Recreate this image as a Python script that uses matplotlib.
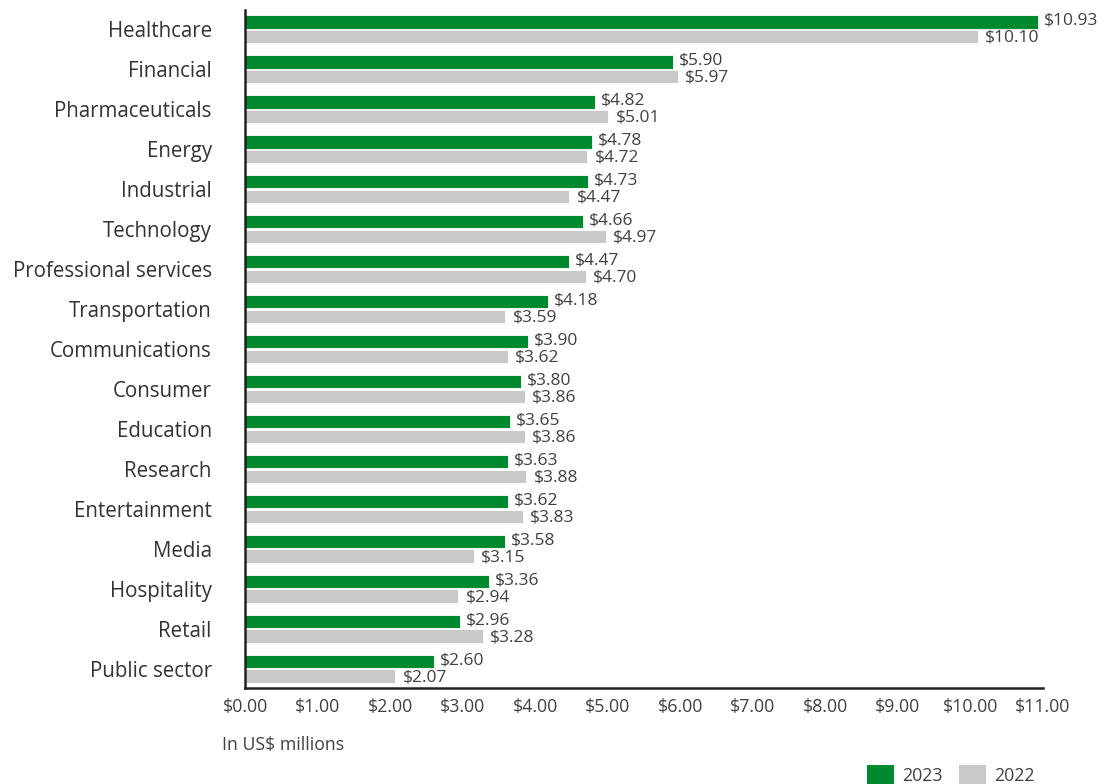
import matplotlib
matplotlib.use("Agg")
import matplotlib.pyplot as plt
import numpy as np
from matplotlib.patches import Patch

categories = ["Healthcare", "Financial", "Pharmaceuticals", "Energy", "Industrial",
              "Technology", "Professional services", "Transportation", "Communications",
              "Consumer", "Education", "Research", "Entertainment", "Media",
              "Hospitality", "Retail", "Public sector"]
values_2023 = [10.93, 5.90, 4.82, 4.78, 4.73, 4.66, 4.47, 4.18, 3.90, 3.80, 3.65,
               3.63, 3.62, 3.58, 3.36, 2.96, 2.60]
values_2022 = [10.10, 5.97, 5.01, 4.72, 4.47, 4.97, 4.70, 3.59, 3.62, 3.86, 3.86,
               3.88, 3.83, 3.15, 2.94, 3.28, 2.07]
xticks = [0, 1, 2, 3, 4, 5, 6, 7, 8, 9, 10, 11]

GREEN = "#008A2E"
GRAY = "#C9C9C9"
TXT = "#404040"

plt.rcParams['font.family'] = ['Open Sans', 'DejaVu Sans']

fig = plt.figure(figsize=(11.05, 7.84), dpi=100)
ax = fig.add_axes([245/1105, 1-688/784, (1043-245)/1105, (688-10)/784])

y = np.arange(len(categories))
h = 0.34
off = 0.185
ax.barh(y - off, values_2023, height=h, color=GREEN, edgecolor="white", linewidth=0.6)
ax.barh(y + off, values_2022, height=h, color=GRAY, edgecolor="white", linewidth=0.6)

for yi, v in zip(y, values_2023):
    ax.text(v + 0.08, yi - off - 0.02, f"${v:.2f}", va="center", ha="left", fontsize=12.5, color=TXT)
for yi, v in zip(y, values_2022):
    ax.text(v + 0.1, yi + off + 0.03, f"${v:.2f}", va="center", ha="left", fontsize=12.5, color=TXT)

ax.set_xlim(0, 11)
ax.set_ylim(len(categories) - 0.52, -0.48)
ax.set_yticks(y)
ax.set_yticklabels(categories, fontsize=14.8, color="#333333")
ax.set_xticks(xticks)
ax.set_xticklabels([f"${t:.2f}" for t in xticks], fontsize=12.8, color=TXT)
ax.tick_params(axis="y", length=0, pad=24)
ax.tick_params(axis="x", length=0, pad=7)

for s in ["top", "right"]:
    ax.spines[s].set_visible(False)
ax.spines["left"].set_linewidth(1.8)
ax.spines["bottom"].set_linewidth(1.8)
ax.spines["left"].set_color("#222222")
ax.spines["bottom"].set_color("#222222")

fig.text(222/1105, 1-745/784, "In US$ millions", fontsize=12.7, color=TXT, va="center", ha="left")

handles = [Patch(facecolor=GREEN, label="2023"), Patch(facecolor=GRAY, label="2022")]
fig.legend(handles=handles, loc="center left", bbox_to_anchor=(851/1105, 1-775/784),
           ncol=2, frameon=False, fontsize=12.8, handlelength=1.5, handleheight=1.3,
           columnspacing=0.9, handletextpad=0.5, labelcolor=TXT)

fig.savefig("out.png", dpi=100)
